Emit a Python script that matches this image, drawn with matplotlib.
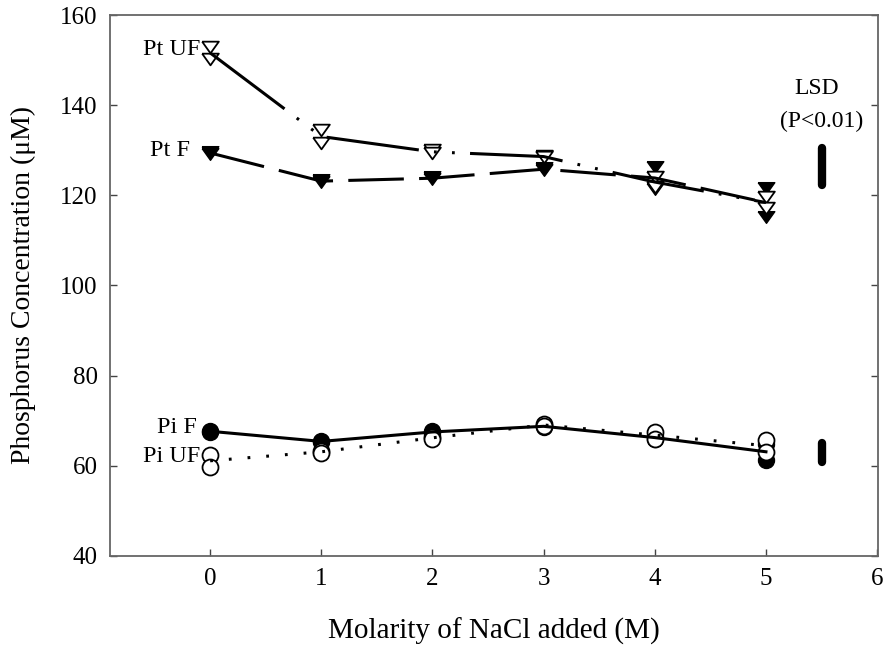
import numpy as np
import matplotlib
matplotlib.use("Agg")
import matplotlib.pyplot as plt

plt.rcParams['font.family'] = ['Liberation Serif', 'DejaVu Serif']
plt.rcParams['lines.scale_dashes'] = False

# NaCl molarity
molarity = [0, 1, 2, 3, 4, 5]

# replicate readings (two per treatment)
pt_uf_a = [152.9, 134.5, 130.0, 128.7, 124.1, 119.6]
pt_uf_b = [150.3, 131.6, 129.3, 128.5, 121.8, 117.2]
pt_f_a = [129.6, 123.3, 124.0, 126.0, 126.3, 121.6]
pt_f_b = [129.2, 123.0, 123.6, 125.6, 121.4, 115.2]
pi_f_a = [67.8, 65.6, 67.8, 69.0, 66.5, 64.9]
pi_f_b = [67.5, 65.2, 67.2, 68.5, 66.0, 61.3]
pi_uf_a = [62.4, 63.3, 66.4, 69.2, 67.6, 65.8]
pi_uf_b = [59.8, 62.9, 66.0, 68.9, 66.0, 63.1]

# least significant differences
lsd_x = 5.5
lsd_pt = [122.3, 130.5]
lsd_pi = [60.9, 65.1]

fig = plt.figure(figsize=(8.88, 6.54), dpi=100)
ax = fig.add_axes([0.124, 0.150, 0.865, 0.827])

# flat down-triangle marker
tri = [(-1, 0.7), (1, 0.7), (0, -0.7), (-1, 0.7)]

# replicate markers (drawn under the lines)
for ys in (pt_f_a, pt_f_b):
    ax.plot(molarity, ys, marker=tri, ms=12, mfc='black', mec='black', ls='none', zorder=2)
for ys in (pt_uf_a, pt_uf_b):
    ax.plot(molarity, ys, marker=tri, ms=12, mfc='white', mec='black', mew=1.3, ls='none', zorder=3)
for ys in (pi_f_a, pi_f_b):
    ax.plot(molarity, ys, 'o', ms=11.5, mfc='black', mec='black', ls='none', zorder=2)
for ys in (pi_uf_a, pi_uf_b):
    ax.plot(molarity, ys, 'o', ms=11.5, mfc='white', mec='black', mew=1.3, ls='none', zorder=3)

lw = 2.2
# Pt UF : long dash - dot - dot
ax.plot(molarity, np.mean([pt_uf_a, pt_uf_b], axis=0), color='black', lw=lw,
        linestyle=(0, (67, 11, 2, 11, 2, 11)), zorder=4)
# Pt F : long dash
ax.plot(molarity, np.mean([pt_f_a, pt_f_b], axis=0), color='black', lw=lw,
        linestyle=(0, (40, 11)), zorder=4)
# Pi F : solid
ax.plot(molarity, np.mean([pi_f_a, pi_f_b], axis=0), color='black', lw=lw,
        linestyle='-', zorder=4)
# Pi UF : dotted
ax.plot(molarity, np.mean([pi_uf_a, pi_uf_b], axis=0), color='black', lw=lw,
        linestyle=(0, (2, 11.5)), zorder=4)

# LSD bars
ax.plot([lsd_x, lsd_x], lsd_pt, color='black', lw=6, solid_capstyle='round')
ax.plot([lsd_x, lsd_x], lsd_pi, color='black', lw=6, solid_capstyle='round')
ax.text(5.46, 143.8, 'LSD', ha='center', va='center', fontsize=17)
ax.text(5.5, 136.3, '(P<0.01)', ha='center', va='center', fontsize=17)

# series labels
fs = 17.5
ax.text(-0.09, 152.3, 'Pt UF', ha='right', va='center', fontsize=fs)
ax.text(-0.18, 130.0, 'Pt F', ha='right', va='center', fontsize=fs)
ax.text(-0.12, 68.5, 'Pi F', ha='right', va='center', fontsize=fs)
ax.text(-0.09, 62.0, 'Pi UF', ha='right', va='center', fontsize=fs)

ax.set_xlim(-0.9, 6.01)
ax.set_ylim(40, 160)
ax.set_xticks(range(0, 7))
ax.set_yticks(range(40, 161, 20))
ax.tick_params(direction='in', length=5, width=1, labelsize=18, pad=9,
               color='#444444', right=True)
for s in ax.spines.values():
    s.set_color('#666666')
    s.set_linewidth(1.3)

ax.set_xlabel('Molarity of NaCl added (M)', fontsize=21, va='top')
ax.xaxis.set_label_coords(0.5, -0.115)
ax.set_ylabel('Phosphorus Concentration (\u03bcM)', fontsize=20)
ax.yaxis.set_label_coords(-0.097, 0.5)

fig.savefig('out.png', dpi=100)
